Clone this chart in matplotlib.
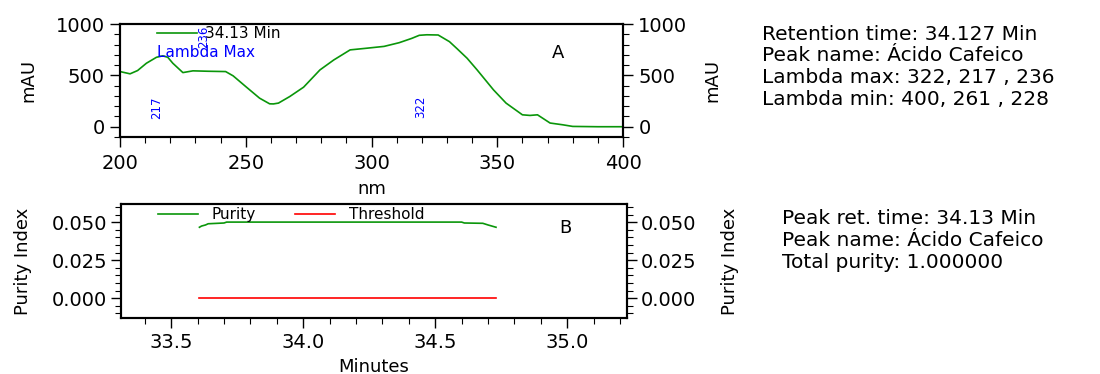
import matplotlib
matplotlib.use("Agg")
import matplotlib.pyplot as plt
from matplotlib.ticker import MultipleLocator, FormatStrFormatter
from matplotlib.lines import Line2D

plt.rcParams['font.family'] = ['DejaVu Sans']

# ---- Data: UV spectrum (panel A) ----
wavelength = [200, 204, 207, 210.5, 214.5, 217, 219, 221, 225, 229, 235, 242, 245, 250,
              255.5, 259.5, 261, 263, 267.5, 273, 279.5, 285, 291.5, 298, 305, 311, 316,
              319, 322, 326.5, 331, 334, 338, 342, 348.5, 353.5, 360, 363, 366, 371,
              376, 380, 390, 400]
absorbance = [537, 515, 547, 618, 676, 690, 676, 618, 527, 544, 540, 537, 495, 391,
              278, 223, 222, 230, 294, 385, 553, 650, 748, 764, 782, 818, 860,
              890, 895, 893, 828, 760, 667, 553, 359, 230, 116, 110, 116, 36,
              19, 3, 0, 0]
lambda_max_labels = [217, 236, 322]
lambda_label_y = [185, 880, 190]
spectrum_legend = "34.13 Min"

# ---- Data: purity (panel B) ----
purity_time = [33.607, 33.615, 33.63, 33.64, 33.70, 33.71, 34.60, 34.61, 34.68, 34.70, 34.73]
purity_value = [0.0467, 0.0475, 0.0482, 0.0490, 0.0495, 0.0501, 0.0501, 0.0495, 0.0493, 0.0482, 0.0467]
threshold_time = [33.607, 34.73]
threshold_value = [0.0, 0.0]

info_a = ["Retention time: 34.127 Min",
          "Peak name: Ácido Cafeico",
          "Lambda max: 322, 217 , 236",
          "Lambda min: 400, 261 , 228"]
info_b = ["Peak ret. time: 34.13 Min",
          "Peak name: Ácido Cafeico",
          "Total purity: 1.000000"]

W, H = 1100, 374
fig = plt.figure(figsize=(W / 100, H / 100), dpi=100)
fig.patch.set_facecolor('white')

green = '#0a960a'
red = '#ff0000'
blue = '#0000ff'
tick_fs = 14
lab_fs = 13


def px_axes(l, t, r, b):
    return fig.add_axes([l / W, 1 - b / H, (r - l) / W, (b - t) / H])


def style(ax):
    for s in ax.spines.values():
        s.set_linewidth(1.5)
        s.set_color('black')
    ax.tick_params(which='major', direction='out', length=7, width=1.0, labelsize=tick_fs)
    ax.tick_params(which='minor', direction='out', length=4, width=0.8)


# ---------------- Panel A ----------------
axA = px_axes(120, 24, 623, 137)
axA.plot(wavelength, absorbance, color=green, lw=1.2)
axA.set_xlim(200, 400)
axA.set_ylim(-100, 1000)
axA.xaxis.set_major_locator(MultipleLocator(50))
axA.xaxis.set_minor_locator(MultipleLocator(10))
axA.yaxis.set_major_locator(MultipleLocator(500))
axA.yaxis.set_minor_locator(MultipleLocator(100))
style(axA)
axA.tick_params(axis='x', pad=5)
axA.tick_params(axis='y', pad=4)
axA.set_xlabel('nm', fontsize=lab_fs, labelpad=5)
axA.set_ylabel('mAU', fontsize=lab_fs)
axA.yaxis.set_label_coords(-0.165, 0.5)

axA2 = axA.twinx()
axA2.set_ylim(axA.get_ylim())
axA2.yaxis.set_major_locator(MultipleLocator(500))
axA2.yaxis.set_minor_locator(MultipleLocator(100))
style(axA2)
axA2.tick_params(axis='y', pad=4)
axA2.set_ylabel('mAU', fontsize=lab_fs)
axA2.yaxis.set_label_coords(1.159, 0.5)

for wl, yv in zip(lambda_max_labels, lambda_label_y):
    axA.text(wl, yv, str(wl), rotation=90, color=blue, fontsize=8.5,
             ha='right', va='center')

axA.legend(handles=[Line2D([], [], color=green, lw=1.2)], labels=[spectrum_legend],
           loc='center left', bbox_to_anchor=(0.074, 0.912), frameon=False,
           borderpad=0, borderaxespad=0, handlelength=2.6, handletextpad=0.5,
           fontsize=11)
axA.text(0.074, 0.752, 'Lambda Max', color=blue, fontsize=11,
         transform=axA.transAxes, ha='left', va='center')
axA.text(0.871, 0.739, 'A', fontsize=13, transform=axA.transAxes, ha='center', va='center')

# ---------------- Panel B ----------------
axB = px_axes(121, 204, 627, 318)
axB.plot(purity_time, purity_value, color=green, lw=1.2, label='Purity')
axB.plot(threshold_time, threshold_value, color=red, lw=1.2, label='Threshold')
axB.set_xlim(33.31, 35.226)
axB.set_ylim(-0.013, 0.062)
axB.xaxis.set_major_locator(MultipleLocator(0.5))
axB.xaxis.set_minor_locator(MultipleLocator(0.1))
axB.yaxis.set_major_locator(MultipleLocator(0.025))
axB.yaxis.set_minor_locator(MultipleLocator(0.005))
axB.xaxis.set_major_formatter(FormatStrFormatter('%.1f'))
axB.yaxis.set_major_formatter(FormatStrFormatter('%.3f'))
style(axB)
axB.tick_params(axis='x', pad=4)
axB.tick_params(axis='y', pad=3)
axB.set_xlabel('Minutes', fontsize=lab_fs, labelpad=4)
axB.set_ylabel('Purity Index', fontsize=lab_fs)
axB.yaxis.set_label_coords(-0.176, 0.5)

axB2 = axB.twinx()
axB2.set_ylim(axB.get_ylim())
axB2.yaxis.set_major_locator(MultipleLocator(0.025))
axB2.yaxis.set_minor_locator(MultipleLocator(0.005))
axB2.yaxis.set_major_formatter(FormatStrFormatter('%.3f'))
style(axB2)
axB2.tick_params(axis='y', pad=3)
axB2.set_ylabel('Purity Index', fontsize=lab_fs)
axB2.yaxis.set_label_coords(1.185, 0.5)

axB.legend(loc='center left', bbox_to_anchor=(0.073, 0.904), frameon=False, ncol=2,
           borderpad=0, borderaxespad=0, handlelength=2.6, handletextpad=0.9,
           columnspacing=2.6, fontsize=11)
axB.text(0.878, 0.79, 'B', fontsize=13, transform=axB.transAxes, ha='center', va='center')

# ---------------- Info text ----------------
for i, line in enumerate(info_a):
    fig.text(762 / W, 1 - (34 + 21.7 * i) / H, line, fontsize=14.5, ha='left', va='center')
for i, line in enumerate(info_b):
    fig.text(782 / W, 1 - (218 + 22 * i) / H, line, fontsize=14.5, ha='left', va='center')

fig.savefig('out.png', dpi=100, facecolor='white')
